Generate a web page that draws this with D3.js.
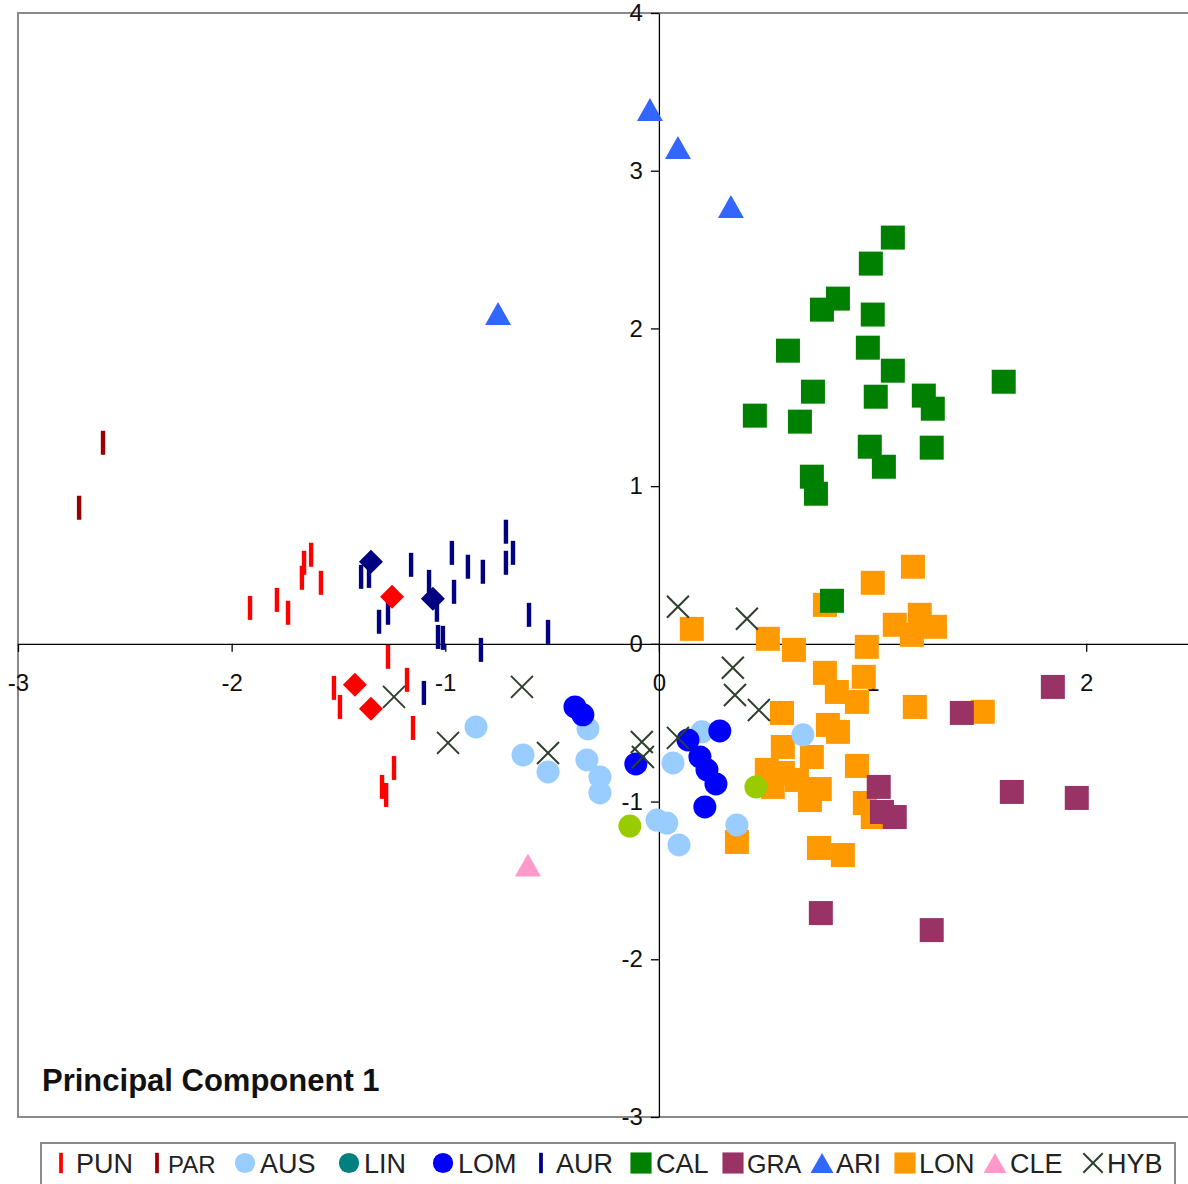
<!DOCTYPE html>
<html>
<head>
<meta charset="utf-8">
<script src="https://cdn.jsdelivr.net/npm/d3@7"></script>
<style>
  body { margin: 0; background: #fff; }
  svg text { font-family: "Liberation Sans", Arial, sans-serif; }
</style>
</head>
<body>
<div class="canvas"></div>
<script>
// PCA scores, [PC1, PC2] per sample
const pun = [[-1.914,0.228],[-1.788,0.279],[-1.736,0.197],[-1.671,0.419],[-1.661,0.514],[-1.628,0.565],
  [-1.582,0.387],[-1.268,-0.082],[-1.521,-0.279],[-1.493,-0.400],[-1.179,-0.228],[-1.151,-0.533],
  [-1.240,-0.787],[-1.296,-0.907],[-1.277,-0.958]];
const punTypes = [[-1.249,0.298],[-1.423,-0.260],[-1.348,-0.412]];
const par = [[-2.602,1.275],[-2.714,0.863]];
const aus = [[-0.856,-0.527],[-0.636,-0.704],[-0.519,-0.812],[-0.332,-0.539],[-0.337,-0.736],[-0.276,-0.844],
  [-0.276,-0.945],[0.066,-0.755],[0.201,-0.558],[-0.009,-1.117],[0.037,-1.136],[0.094,-1.275],
  [0.365,-1.148],[0.674,-0.577]];
const lin = [];
const lom = [[-0.393,-0.400],[-0.356,-0.450],[-0.108,-0.761],[0.136,-0.609],[0.285,-0.552],[0.192,-0.717],
  [0.225,-0.799],[0.267,-0.888],[0.215,-1.034]];
const unassigned = [[-0.136,-1.155],[0.454,-0.907]];
const aur = [[-1.394,0.425],[-1.357,0.431],[-1.310,0.140],[-1.268,0.197],[-1.160,0.501],[-1.076,0.393],
  [-1.039,0.216],[-1.034,0.044],[-1.011,0.038],[-0.969,0.577],[-0.959,0.330],[-0.894,0.489],
  [-0.824,0.457],[-0.833,-0.038],[-0.716,0.711],[-0.716,0.514],[-0.683,0.577],[-0.608,0.184],
  [-0.519,0.076],[-1.100,-0.311]];
const aurTypes = [[-1.348,0.520],[-1.058,0.286]];
const cal = [[1.095,2.576],[0.992,2.411],[0.838,2.189],[0.763,2.119],[1.001,2.088],[0.604,1.859],
  [0.978,1.878],[1.095,1.732],[0.721,1.599],[1.015,1.567],[1.240,1.574],[1.282,1.491],[1.614,1.662],
  [0.449,1.447],[0.660,1.409],[0.987,1.250],[1.053,1.123],[1.277,1.244],[0.716,1.060],[0.735,0.952],
  [0.810,0.273]];
const gra = [[1.844,-0.273],[1.418,-0.438],[1.029,-0.907],[1.044,-1.066],[1.104,-1.098],[1.652,-0.939],
  [1.956,-0.977],[1.277,-1.815],[0.758,-1.707]];
const ari = [[-0.042,3.388],[0.089,3.147],[0.337,2.773],[-0.753,2.094]];
const lon = [[0.154,0.095],[0.510,0.032],[0.632,-0.038],[0.777,0.247],[1.001,0.387],[1.189,0.489],
  [1.104,0.121],[1.221,0.184],[1.184,0.057],[1.292,0.108],[0.973,-0.019],[0.777,-0.184],[0.959,-0.209],
  [0.833,-0.305],[0.927,-0.368],[1.198,-0.400],[1.516,-0.431],[0.576,-0.438],[0.791,-0.514],
  [0.838,-0.558],[0.580,-0.654],[0.716,-0.717],[0.505,-0.799],[0.580,-0.819],[0.533,-0.907],
  [0.646,-0.863],[0.753,-0.920],[0.707,-0.990],[0.927,-0.774],[0.964,-1.009],[1.001,-1.098],
  [0.365,-1.256],[0.749,-1.294],[0.861,-1.339]];
const cle = [[-0.613,-1.402]];
const hyb = [[-1.240,-0.336],[-0.987,-0.628],[-0.641,-0.273],[-0.519,-0.692],[-0.080,-0.622],
  [-0.075,-0.717],[0.089,-0.596],[0.089,0.235],[0.412,0.159],[0.346,-0.152],[0.356,-0.324],[0.468,-0.419]];

const species = ['PUN','PAR','AUS','LIN','LOM','AUR','CAL','GRA','ARI','LON','CLE','HYB'];
const xTicks = [-3,-2,-1,0,1,2];
const yTicks = [-3,-2,-1,0,1,2,3,4];
const axisTitle = 'Principal Component 1';

//marker style per series
const style = {
  PUN: { shape: 'bar', color: '#ff0000' },
  PAR: { shape: 'bar', color: '#990000' },
  AUS: { shape: 'circle', color: '#99ccff' },
  LIN: { shape: 'circle', color: '#008080' },
  LOM: { shape: 'circle', color: '#0000ff' },
  AUR: { shape: 'bar', color: '#000080' },
  CAL: { shape: 'square', color: '#008000' },
  GRA: { shape: 'square', color: '#993366' },
  ARI: { shape: 'triangle', color: '#3366ff' },
  LON: { shape: 'square', color: '#ff9900' },
  CLE: { shape: 'triangle', color: '#ff99cc' },
  HYB: { shape: 'x', color: '#2d402d' },
  punTypes: { shape: 'diamond', color: '#ff0000' },
  aurTypes: { shape: 'diamond', color: '#000080' },
  unassigned: { shape: 'circle', color: '#99cc00' }
};

//stacking order as seen in the picture (orange underneath)
const layers = [
  ['LON', lon], ['CAL', cal], ['GRA', gra], ['PUN', pun], ['PAR', par], ['AUS', aus], ['LIN', lin],
  ['LOM', lom], ['unassigned', unassigned], ['AUR', aur], ['punTypes', punTypes], ['aurTypes', aurTypes],
  ['ARI', ari], ['CLE', cle], ['HYB', hyb]
];

const dims = { width: 1188, height: 1184 };

const svg = d3.select('.canvas')
  .append('svg')
  .attr('width', dims.width)
  .attr('height', dims.height);

const x = d3.scaleLinear().domain([-3, 2.5]).range([18, 1193]);
const y = d3.scaleLinear().domain([-3, 4]).range([1117, 13]);

//plot frame
svg.append('rect')
  .attr('x', x(-3)).attr('y', y(4))
  .attr('width', x(2.5) - x(-3)).attr('height', y(-3) - y(4))
  .attr('fill', 'none').attr('stroke', '#8a8a8a').attr('stroke-width', 2);

//axes crossing at the origin
const xAxis = svg.append('g')
  .attr('transform', `translate(0, ${y(0)})`)
  .call(d3.axisBottom(x).tickValues(xTicks).tickSize(8).tickSizeOuter(0).tickPadding(22).tickFormat(d => String(d)));

const yAxis = svg.append('g')
  .attr('transform', `translate(${x(0)}, 0)`)
  .call(d3.axisLeft(y).tickValues(yTicks).tickSize(8).tickSizeOuter(0).tickPadding(8).tickFormat(d => String(d)));

[xAxis, yAxis].forEach(a => {
  a.select('.domain').attr('stroke', '#000').attr('stroke-width', 1.3);
  a.selectAll('.tick line').attr('stroke', '#000').attr('stroke-width', 1.3);
  a.selectAll('text').attr('font-size', 24).attr('fill', '#111')
    .attr('font-family', '"Liberation Sans", Arial, sans-serif');
});

//draws one marker centred on (cx, cy), k scales it for the legend
const marker = (g, shape, color, cx, cy, k = 1) => {
  const h = 12 * k;
  if (shape === 'bar') {
    g.append('rect').attr('x', cx - 2.2 * k).attr('y', cy - h).attr('width', 4.4 * k).attr('height', 2 * h)
      .attr('fill', color);
  } else if (shape === 'circle') {
    g.append('circle').attr('cx', cx).attr('cy', cy).attr('r', 11.5 * k).attr('fill', color);
  } else if (shape === 'square') {
    g.append('rect').attr('x', cx - h).attr('y', cy - h).attr('width', 2 * h).attr('height', 2 * h)
      .attr('fill', color);
  } else if (shape === 'triangle') {
    const w = 13 * k, t = 11.5 * k;
    g.append('path').attr('d', `M${cx},${cy - t}L${cx + w},${cy + t}L${cx - w},${cy + t}Z`).attr('fill', color);
  } else if (shape === 'diamond') {
    g.append('path').attr('d', `M${cx},${cy - h}L${cx + h},${cy}L${cx},${cy + h}L${cx - h},${cy}Z`)
      .attr('fill', color);
  } else if (shape === 'x') {
    const s = 11 * k;
    g.append('path').attr('d', `M${cx - s},${cy - s}L${cx + s},${cy + s}M${cx - s},${cy + s}L${cx + s},${cy - s}`)
      .attr('stroke', color).attr('stroke-width', 2).attr('fill', 'none');
  }
};

const graph = svg.append('g');
layers.forEach(([key, pts]) => {
  const g = graph.append('g').attr('class', key);
  pts.forEach(d => marker(g, style[key].shape, style[key].color, x(d[0]), y(d[1])));
});

svg.append('text')
  .attr('x', 42).attr('y', 1091)
  .attr('font-size', 31).attr('font-weight', 'bold').attr('fill', '#111')
  .text(axisTitle);

//legend box along the bottom
const legendX = [61, 157, 245, 349, 443, 541, 641, 733, 822, 905, 995, 1093];
const legendTextX = [76, 168, 260, 364, 458, 556, 656, 747, 836, 919, 1010, 1107];
const legendFont = { PAR: 24, GRA: 25 };
const legendGroup = svg.append('g');
legendGroup.append('rect')
  .attr('x', 41).attr('y', 1143).attr('width', 1134).attr('height', 60)
  .attr('fill', '#fff').attr('stroke', '#8a8a8a').attr('stroke-width', 2);

species.forEach((s, i) => {
  const cx = legendX[i], cy = 1163;
  const st = style[s];
  const k = st.shape === 'bar' ? 0.85 : 0.88;
  marker(legendGroup, st.shape, st.color, cx, cy, k);
  legendGroup.append('text')
    .attr('x', legendTextX[i]).attr('y', cy + 10)
    .attr('font-size', legendFont[s] || 27).attr('fill', '#222')
    .text(s);
});
</script>
</body>
</html>
